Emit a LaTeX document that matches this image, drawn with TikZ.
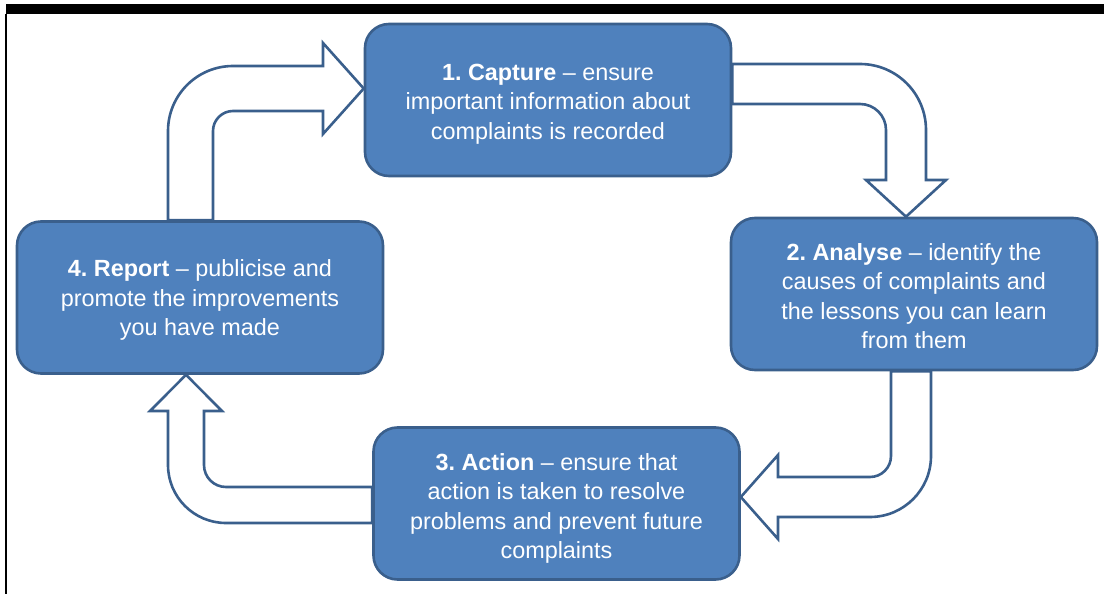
\documentclass[tikz,border=0pt]{standalone}
\usepackage{fontspec}
\setmainfont{Liberation Sans}
\usetikzlibrary{backgrounds}
\definecolor{boxfill}{HTML}{4F81BD}
\definecolor{boxline}{HTML}{3A5F8C}
\frenchspacing
\begin{document}
\begin{tikzpicture}[x=1pt,y=-1pt,
  stage/.style={draw=boxline, fill=boxfill, line width=2.6pt, rounded corners=24pt,
    minimum width=366pt, minimum height=152pt, inner sep=0pt},
  stagetext/.style={text=white, align=center, inner sep=0pt,
    font=\fontsize{23.4}{29.5}\selectfont},
  blockarrow/.style={draw=boxline, fill=white, line width=2.6pt, line join=miter}]
\useasboundingbox (0,0) rectangle (1104,594);

% page frame: heavy rule on top, thin rule on the left
\fill[black] (6,4) rectangle (1104,14);
\draw[line width=1.4pt] (6,14) -- (6,594);

% the four stages of the cycle
\node[stage] (capture) at (548,100) {};
\node[stage] (analyse) at (914,294) {};
\node[stage] (action) at (556.5,503.5) {};
\node[stage] (report) at (200,297.5) {};

\node[stagetext, yshift=-4pt] (captureText) at (capture.center)
  {\textbf{1. Capture} – ensure\\important information about\\complaints is recorded};
\node[stagetext, yshift=-2pt] (analyseText) at (analyse.center)
  {\textbf{2. Analyse} – identify the\\causes of complaints and\\the lessons you can learn\\from them};
\node[stagetext, yshift=-5pt] (actionText) at (action.center)
  {\textbf{3. Action} – ensure that\\action is taken to resolve\\problems and prevent future\\complaints};
\node[stagetext, yshift=-2.5pt] (reportText) at (report.center)
  {\textbf{4. Report} – publicise and\\promote the improvements\\you have made};

% bent block arrows linking the stages
\begin{scope}[on background layer]
  % report -> capture
  \draw[blockarrow] (168,0 |- report.north) -- (168,131)
    .. controls +(0,-35.9) and +(-35.9,0) .. (233,66) -- (323,66) -- (323,43)
    -- (capture.west |- 0,88.5) -- (323,134) -- (323,111) -- (233,111)
    .. controls +(-11,0) and +(0,-11) .. (213,131) -- (213,0 |- report.north) -- cycle;
  % capture -> analyse
  \draw[blockarrow] (capture.east |- 0,64) -- (860,64)
    .. controls +(36.5,0) and +(0,-36.5) .. (926,130) -- (926,180) -- (946,180)
    -- (analyse.north -| 906,0) -- (866,180) -- (886,180) -- (886,130)
    .. controls +(0,-14.4) and +(14.4,0) .. (860,104) -- (capture.east |- 0,104) -- cycle;
  % analyse -> action
  \draw[blockarrow] (891,0 |- analyse.south) -- (891,456)
    .. controls +(0,11.6) and +(11.6,0) .. (870,477) -- (778,477) -- (778,455)
    -- (action.east |- 0,497) -- (778,539) -- (778,517) -- (870,517)
    .. controls +(33.7,0) and +(0,33.7) .. (931,456) -- (931,0 |- analyse.south) -- cycle;
  % action -> report
  \draw[blockarrow] (action.west |- 0,487) -- (226,487)
    .. controls +(-12.2,0) and +(0,12.2) .. (204,465) -- (204,411) -- (222,411)
    -- (report.south -| 186,0) -- (150,411) -- (168,411) -- (168,465)
    .. controls +(0,32) and +(-32,0) .. (226,523) -- (action.west |- 0,523) -- cycle;
\end{scope}
\end{tikzpicture}
\end{document}
